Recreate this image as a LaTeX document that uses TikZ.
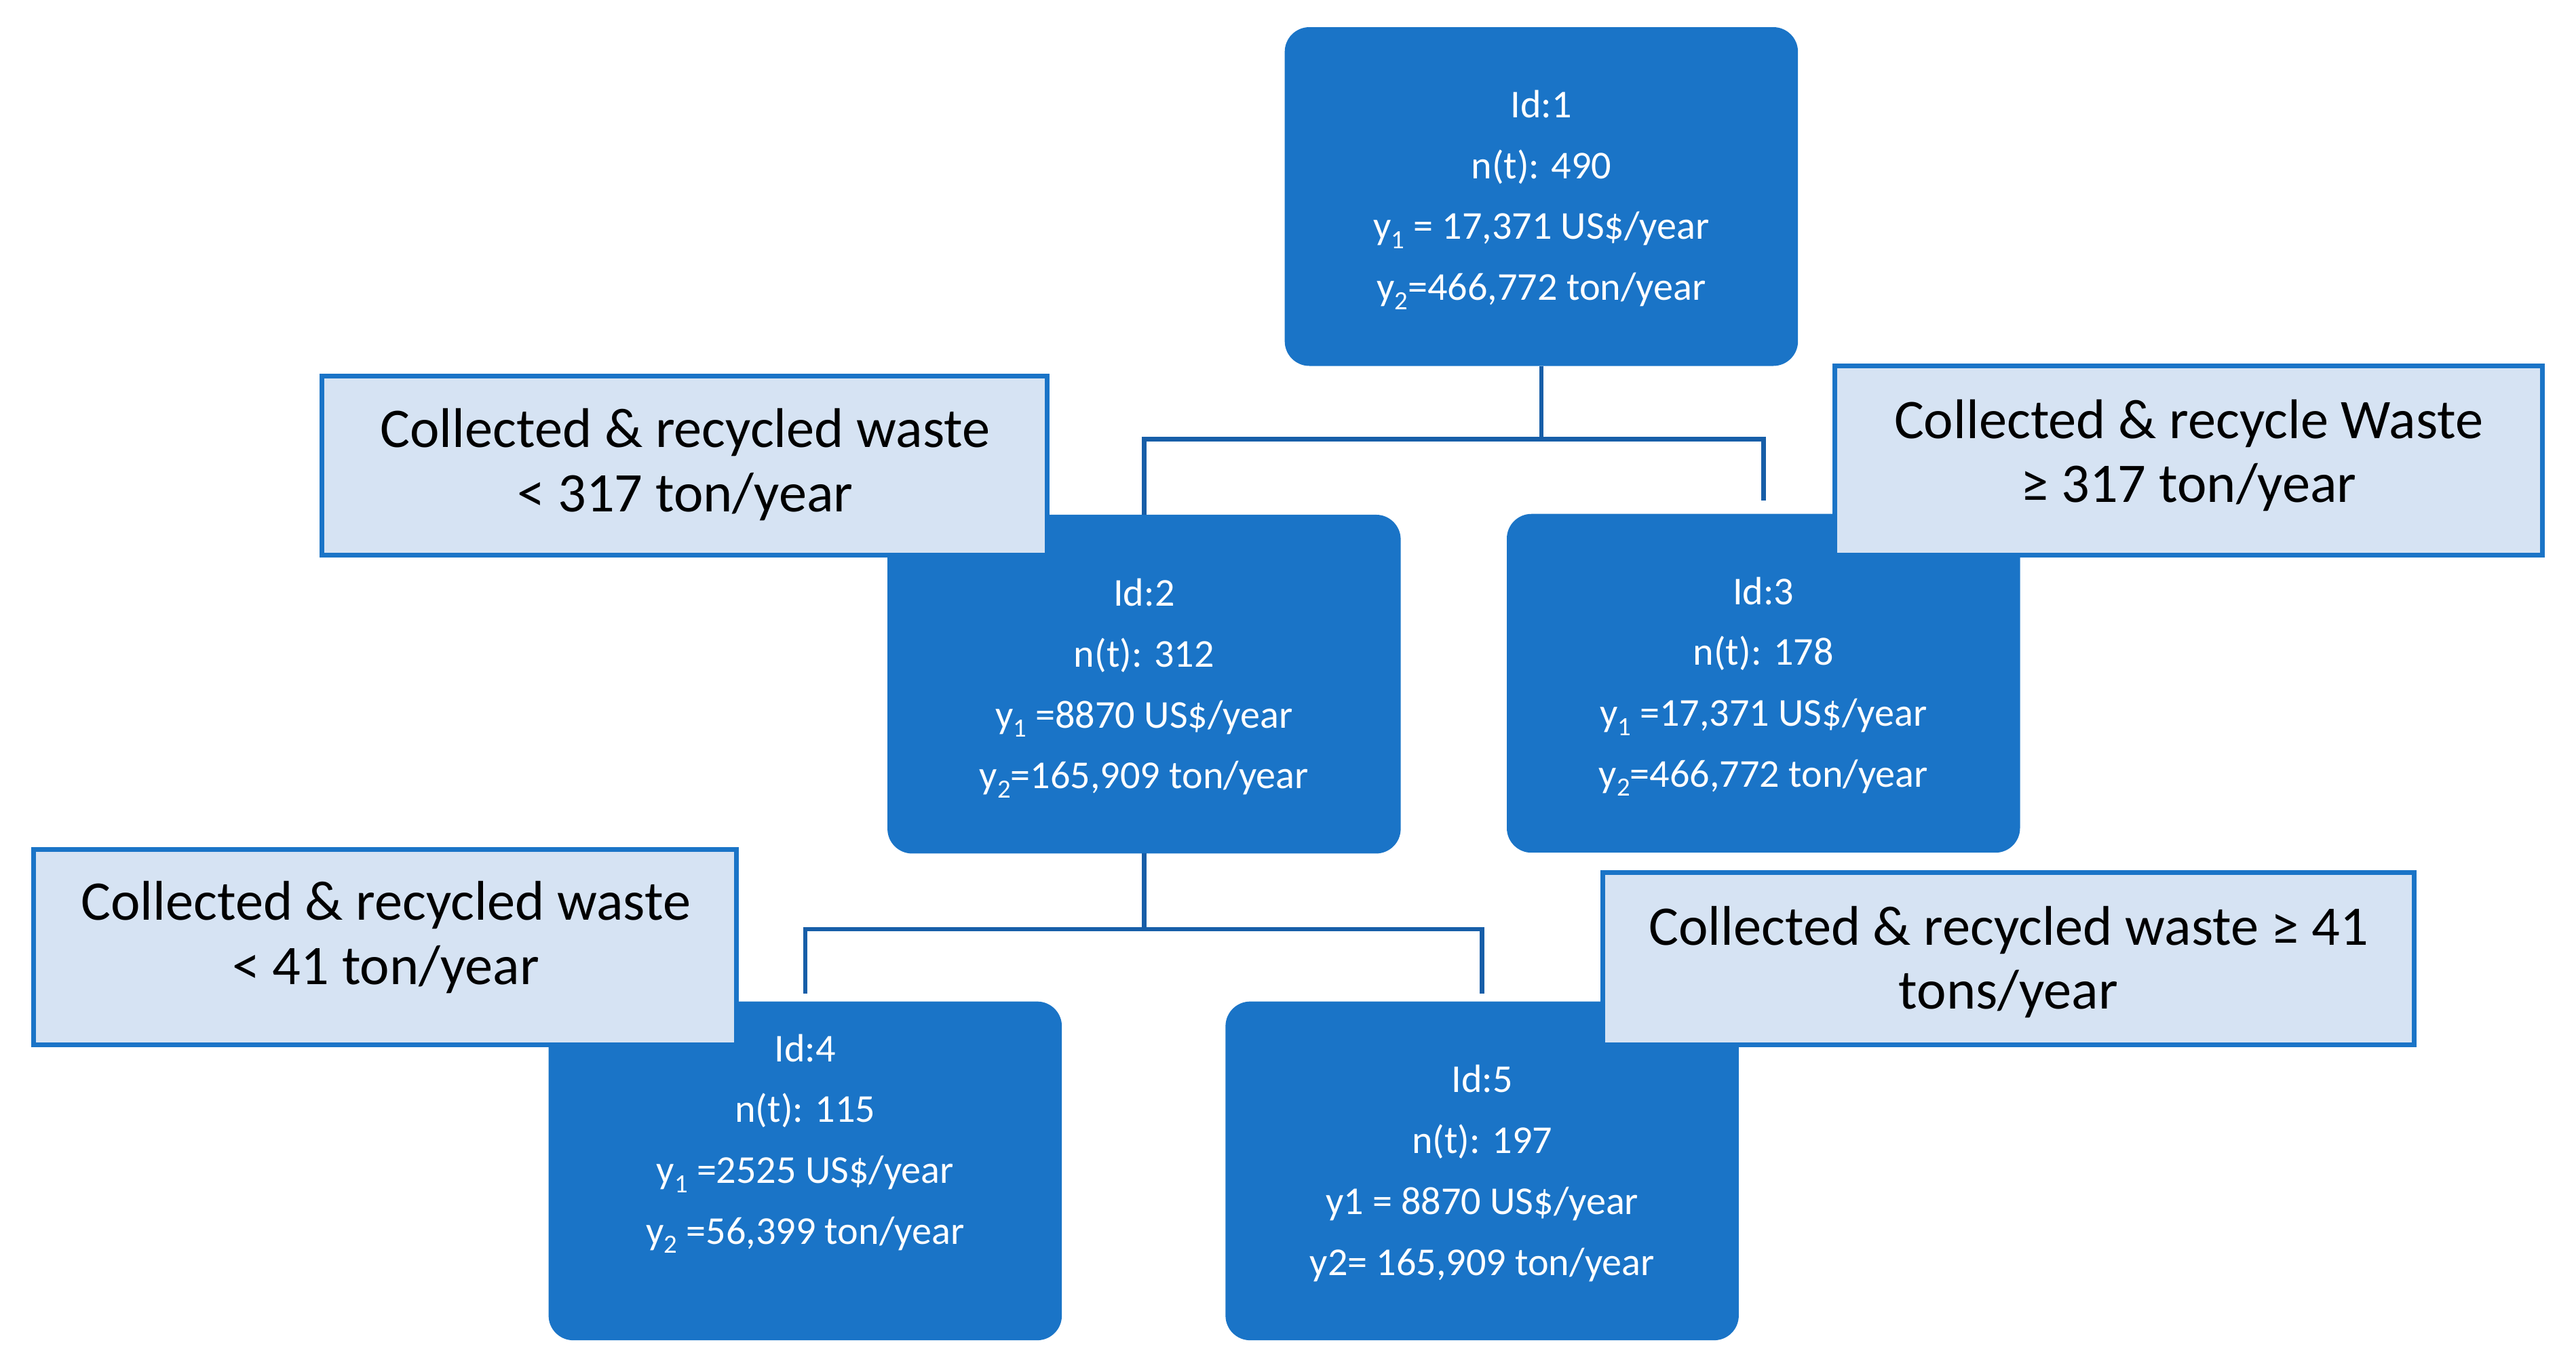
\documentclass[tikz,border=0pt]{standalone}
\usepackage{fontspec}
\setmainfont{Carlito}
\definecolor{boxblue}{RGB}{26,116,199}
\definecolor{lineblue}{RGB}{23,94,168}
\definecolor{labfill}{RGB}{214,227,243}
\newcommand{\mysub}[1]{\raisebox{-2.8pt}{\fontsize{8}{8}\selectfont #1}}
\begin{document}
\begin{tikzpicture}[x=0.5pt,y=-0.5pt,
  nodebox/.style={draw=none,fill=boxblue,rounded corners=7.5pt,minimum width=156pt,minimum height=103pt,inner sep=0pt,outer sep=0pt},
  nodetext/.style={text=white,align=center,inner sep=0pt,font=\fontsize{12}{18.5}\selectfont},
  labbox/.style={draw=boxblue,line width=1.45pt,fill=labfill,inner sep=0pt,outer sep=0pt},
  labtext/.style={text=black,align=center,inner sep=0pt,font=\fontsize{17}{19.5}\selectfont},
  conn/.style={draw=lineblue,line width=1.35pt}]
\useasboundingbox (0,0) rectangle (1566,831.5);
% decision nodes
\node[nodebox] (b1) at (937,119.5) {};
\node[nodebox] (b2) at (695.5,416) {};
\node[nodebox] (b3) at (1072,415.5) {};
\node[nodebox] (b4) at (489.5,712) {};
\node[nodebox] (b5) at (901,712) {};
\node[nodetext] (t1) at (937,121.5) {Id:1\\n(t): 490\\y\mysub{1} = 17,371 US\$/year\\y\mysub{2}=466,772 ton/year};
\node[nodetext] (t2) at (695.5,418.5) {Id:2\\n(t): 312\\y\mysub{1} =8870 US\$/year\\y\mysub{2}=165,909 ton/year};
\node[nodetext] (t3) at (1072,417.5) {Id:3\\n(t): 178\\y\mysub{1} =17,371 US\$/year\\y\mysub{2}=466,772 ton/year};
\node[nodetext] (t4) at (489.5,695.5) {Id:4\\n(t): 115\\y\mysub{1} =2525 US\$/year\\y\mysub{2} =56,399 ton/year};
\node[nodetext] (t5) at (901,713.5) {Id:5\\n(t): 197\\y1 = 8870 US\$/year\\y2= 165,909 ton/year};
% connectors
\coordinate (m1) at (937,267);
\coordinate (m2) at (695.5,565);
\draw[conn] (b1.south) -- (m1);
\draw[conn] (m1) -| (b2.north);
\draw[conn] (m1) -| ([yshift=4pt]b3.north);
\draw[conn] (b2.south) -- (m2);
\draw[conn] (m2) -| ([yshift=2.5pt]b4.north);
\draw[conn] (m2) -| ([yshift=2.5pt]b5.north);
% split labels
\node[labbox,minimum width=220.5pt,minimum height=54.5pt] (l1) at (416,283) {};
\node[labtext] (l1t) at (416.5,282.5) {Collected \& recycled waste\\< 317 ton/year};
\node[labbox,minimum width=215pt,minimum height=57.5pt] (l2) at (1330.5,280) {};
\node[labtext] (l2t) at (1330.5,277) {Collected \& recycle Waste\\≥ 317 ton/year};
\node[labbox,minimum width=213.5pt,minimum height=59.5pt] (l3) at (234,576) {};
\node[labtext] (l3t) at (234.5,570) {Collected \& recycled waste\\< 41 ton/year};
\node[labbox,minimum width=246.5pt,minimum height=52.5pt] (l4) at (1221,583) {};
\node[labtext] (l4t) at (1221,585) {Collected \& recycled waste ≥ 41\\tons/year};
\end{tikzpicture}
\end{document}
